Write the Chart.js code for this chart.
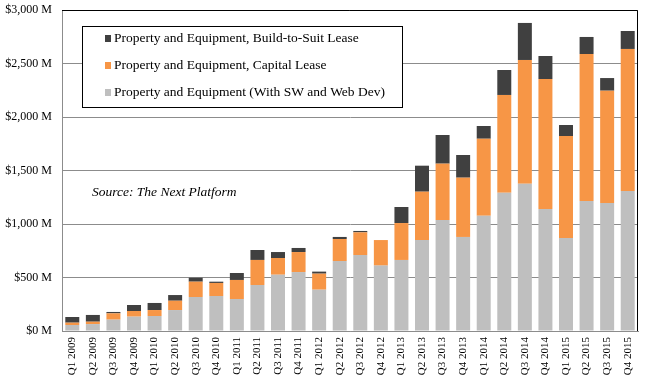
<!DOCTYPE html>
<html>
<head>
<meta charset="utf-8">
<script src="https://cdn.jsdelivr.net/npm/chart.js@4"></script>
<style>
  html, body { margin: 0; padding: 0; background: #fff; }
  #wrap { width: 653px; height: 392px; }
</style>
</head>
<body>
<div id="wrap"><canvas id="c" width="653" height="392"></canvas></div>
<script>
// values in $ millions
const quarters = [
  'Q1 2009', 'Q2 2009', 'Q3 2009', 'Q4 2009',
  'Q1 2010', 'Q2 2010', 'Q3 2010', 'Q4 2010',
  'Q1 2011', 'Q2 2011', 'Q3 2011', 'Q4 2011',
  'Q1 2012', 'Q2 2012', 'Q3 2012', 'Q4 2012',
  'Q1 2013', 'Q2 2013', 'Q3 2013', 'Q4 2013',
  'Q1 2014', 'Q2 2014', 'Q3 2014', 'Q4 2014',
  'Q1 2015', 'Q2 2015', 'Q3 2015', 'Q4 2015'
];

const equipment = [
  56, 65, 106, 134,
  140, 196, 318, 327,
  299, 430, 526, 551,
  386, 654, 710, 611,
  664, 850, 1037, 879,
  1078, 1293, 1377, 1140,
  869, 1215, 1196, 1308
];

const capitalLease = [
  22, 22, 59, 53,
  56, 87, 143, 122,
  178, 234, 156, 187,
  150, 206, 212, 239,
  345, 452, 527, 554,
  719, 913, 1156, 1215,
  953, 1374, 1050, 1328
];

const buildToSuit = [
  53, 63, 13, 56,
  66, 53, 37, 12,
  65, 93, 56, 38,
  19, 19, 13, 0,
  150, 243, 268, 212,
  119, 233, 346, 215,
  103, 159, 118, 168
];

const yTicks = [0, 500, 1000, 1500, 2000, 2500, 3000];

const serif = '"Liberation Serif", "DejaVu Serif", serif';

// legend box inside the plot, plus the source note and the black top/right frame
const overlay = {
  id: 'overlay',
  afterDraw(chart) {
    const ctx = chart.ctx;
    const a = chart.chartArea;
    ctx.save();

    ctx.strokeStyle = '#000';
    ctx.lineWidth = 1;
    ctx.beginPath();
    ctx.moveTo(a.left, a.top + 0.5);
    ctx.lineTo(a.right - 0.5, a.top + 0.5);
    ctx.lineTo(a.right - 0.5, a.bottom);
    ctx.stroke();

    const bx = 82, by = 26, bw = 320, bh = 81;
    ctx.fillStyle = '#fff';
    ctx.fillRect(bx, by, bw, bh);
    ctx.strokeRect(bx + 0.5, by + 0.5, bw, bh);

    const items = chart.data.datasets.slice().reverse();
    ctx.font = '13.5px ' + serif;
    ctx.textBaseline = 'middle';
    items.forEach((ds, i) => {
      const y = 38 + i * 27;
      ctx.fillStyle = ds.backgroundColor;
      ctx.fillRect(105, y - 3, 6, 7);
      ctx.fillStyle = '#000';
      ctx.fillText(ds.label, 114, y);
    });

    ctx.font = 'italic 13.5px ' + serif;
    ctx.fillStyle = '#000';
    ctx.fillText('Source: The Next Platform', 92, 192);
    ctx.restore();
  }
};

new Chart(document.getElementById('c'), {
  type: 'bar',
  data: {
    labels: quarters,
    datasets: [
      {
        label: 'Property and Equipment (With SW and Web Dev)',
        data: equipment,
        backgroundColor: '#BFBFBF'
      },
      {
        label: 'Property and Equipment, Capital Lease',
        data: capitalLease,
        backgroundColor: '#F79646'
      },
      {
        label: 'Property and Equipment, Build-to-Suit Lease',
        data: buildToSuit,
        backgroundColor: '#404040'
      }
    ]
  },
  options: {
    responsive: false,
    animation: { duration: 0 },
    layout: { padding: { top: 10, right: 15, left: 0, bottom: 0 } },
    datasets: {
      bar: { categoryPercentage: 1, barPercentage: 0.68 }
    },
    plugins: {
      legend: { display: false },
      tooltip: { enabled: false }
    },
    scales: {
      x: {
        stacked: true,
        grid: { display: false, drawTicks: false },
        border: { color: '#8c8c8c' },
        ticks: {
          minRotation: 90,
          maxRotation: 90,
          autoSkip: false,
          padding: 6,
          color: '#000',
          font: { family: serif, size: 11 }
        },
        afterFit: s => { s.height = 61; s.paddingLeft = 0; s.paddingRight = 0; }
      },
      y: {
        stacked: true,
        min: 0,
        max: 3000,
        afterBuildTicks: s => { s.ticks = yTicks.map(v => ({ value: v })); },
        grid: { color: '#8c8c8c', drawTicks: false },
        border: { color: '#8c8c8c' },
        ticks: {
          padding: 10,
          color: '#000',
          font: { family: serif, size: 12 },
          callback: v => '$' + v.toLocaleString('en-US') + ' M'
        },
        afterFit: s => { s.width = 62; s.paddingTop = 0; s.paddingBottom = 0; }
      }
    }
  },
  plugins: [overlay]
});
</script>
</body>
</html>
